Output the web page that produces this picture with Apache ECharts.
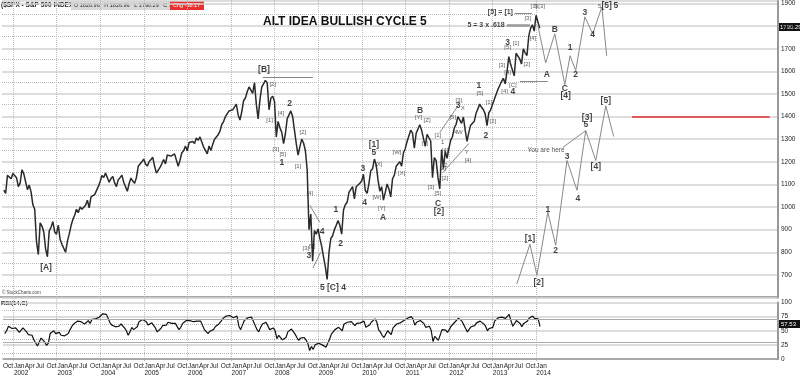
<!DOCTYPE html>
<html>
<head>
<meta charset="utf-8">
<title>ALT IDEA BULLISH CYCLE 5</title>
<script src="https://cdn.jsdelivr.net/npm/echarts/dist/echarts.min.js"></script>
<style>
  html, body { margin: 0; padding: 0; background: #fff; }
  #main { width: 800px; height: 377px; }
</style>
</head>
<body>
<div id="main"></div>
<script>
// $SPX weekly (mid-month, month end)
const spx2001 = [1075, 1060, 1140, 1139, 1125, 1148]; // Oct-Dec
const spx2002 = [1140, 1130, 1090, 1107, 1165, 1147, 1112, 1077, 1097, 1067, 1010, 990, 847, 790, 930, 916, 890, 815, 780, 895, 910, 936, 890, 880];
const spx2003 = [920, 856, 835, 841, 800, 848, 880, 917, 945, 964, 990, 975, 1000, 990, 985, 1008, 1030, 996, 1045, 1051, 1055, 1058, 1090, 1112];
const spx2004 = [1140, 1131, 1150, 1145, 1110, 1126, 1135, 1107, 1090, 1121, 1130, 1141, 1110, 1102, 1070, 1104, 1128, 1115, 1105, 1130, 1180, 1174, 1200, 1212];
const spx2005 = [1190, 1181, 1200, 1204, 1220, 1181, 1150, 1157, 1175, 1192, 1210, 1191, 1230, 1234, 1225, 1220, 1235, 1229, 1180, 1207, 1240, 1249, 1270, 1248];
const spx2006 = [1285, 1280, 1290, 1281, 1305, 1295, 1310, 1311, 1265, 1270, 1235, 1270, 1250, 1277, 1300, 1304, 1320, 1336, 1365, 1378, 1400, 1401, 1425, 1418];
const spx2007 = [1430, 1438, 1455, 1407, 1385, 1421, 1470, 1482, 1510, 1531, 1530, 1503, 1550, 1455, 1390, 1474, 1530, 1527, 1560, 1549, 1430, 1481, 1490, 1468];
const spx2008 = [1310, 1379, 1350, 1331, 1280, 1323, 1390, 1386, 1425, 1400, 1340, 1280, 1230, 1267, 1300, 1283, 1250, 1166, 900, 969, 760, 896, 880, 903];
const spx2009 = [860, 826, 780, 735, 680, 798, 860, 873, 900, 919, 940, 919, 880, 987, 1010, 1021, 1065, 1057, 1090, 1036, 1090, 1096, 1105, 1115];
const spx2010 = [1145, 1074, 1060, 1104, 1160, 1169, 1212, 1187, 1120, 1070, 1090, 1031, 1065, 1102, 1080, 1045, 1125, 1141, 1180, 1183, 1200, 1181, 1240, 1258];
const spx2011 = [1290, 1286, 1340, 1327, 1260, 1326, 1330, 1364, 1340, 1345, 1268, 1321, 1316, 1292, 1130, 1219, 1205, 1131, 1080, 1253, 1170, 1247, 1215, 1258];
const spx2012 = [1295, 1312, 1350, 1366, 1400, 1408, 1370, 1398, 1340, 1290, 1330, 1362, 1360, 1379, 1415, 1407, 1455, 1441, 1430, 1412, 1360, 1416, 1430, 1426];
const spx2013 = [1475, 1498, 1520, 1515, 1555, 1569, 1545, 1598, 1665, 1631, 1630, 1580, 1680, 1686, 1655, 1633, 1700, 1682, 1670, 1757, 1790, 1806, 1778, 1848];
const spx2014 = [1842, 1790.29];

// RSI(14) on the same half-month steps
const rsi2001 = [45, 50, 58, 57, 54, 56];
const rsi2002 = [55, 52, 47, 49, 55, 53, 48, 43, 45, 42, 34, 31, 23, 30, 37, 35, 30, 24, 28, 45, 48, 50, 45, 44];
const rsi2003 = [47, 42, 40, 41, 38, 45, 52, 58, 62, 64, 67, 65, 66, 64, 62, 65, 68, 63, 70, 70, 71, 71, 74, 77];
const rsi2004 = [80, 78, 79, 76, 64, 60, 62, 57, 54, 58, 62, 64, 55, 50, 42, 48, 56, 52, 50, 57, 66, 65, 70, 72];
const rsi2005 = [66, 60, 63, 64, 66, 55, 48, 49, 54, 59, 62, 60, 65, 66, 63, 60, 63, 62, 52, 56, 63, 66, 68, 65];
const rsi2006 = [68, 66, 66, 64, 67, 65, 67, 66, 52, 50, 45, 49, 46, 52, 57, 58, 62, 66, 71, 74, 76, 75, 77, 74];
const rsi2007 = [73, 75, 76, 58, 52, 60, 68, 70, 73, 75, 74, 67, 69, 52, 48, 56, 62, 61, 65, 63, 52, 54, 55, 50];
const rsi2008 = [36, 42, 38, 34, 33, 38, 48, 50, 53, 51, 44, 38, 33, 37, 40, 38, 34, 28, 15, 22, 17, 25, 26, 28];
const rsi2009 = [27, 25, 23, 21, 22, 35, 44, 47, 52, 55, 56, 54, 50, 62, 64, 65, 68, 66, 67, 59, 63, 64, 64, 65];
const rsi2010 = [67, 56, 57, 60, 65, 68, 71, 66, 52, 48, 42, 38, 39, 50, 47, 43, 55, 58, 62, 63, 64, 62, 68, 70];
const rsi2011 = [72, 72, 75, 71, 60, 65, 66, 68, 65, 63, 56, 58, 58, 51, 31, 40, 38, 33, 30, 52, 49, 51, 47, 52];
const rsi2012 = [58, 61, 65, 67, 72, 73, 67, 68, 54, 48, 53, 57, 56, 59, 64, 62, 67, 65, 62, 58, 50, 54, 55, 56];
const rsi2013 = [67, 70, 73, 71, 74, 76, 72, 75, 79, 68, 58, 60, 68, 69, 63, 57, 63, 61, 67, 72, 74, 76, 72, 75];
const rsi2014 = [71, 57.53];

// projected paths [year, price]
const pathUpper = [[2014.04, 1805], [2014.22, 1637], [2014.43, 1766], [2014.66, 1541], [2014.78, 1669], [2014.91, 1603], [2015.12, 1841], [2015.30, 1766], [2015.51, 1885], [2015.62, 1669]];
const pathLower = [[2013.56, 660], [2013.86, 836], [2014.02, 699], [2014.27, 977], [2014.45, 831], [2014.71, 1206], [2014.94, 1074], [2015.14, 1338], [2015.37, 1206], [2015.60, 1448], [2015.78, 1312]];

// drawn lines [[year, price], [year, price]]
const segments = [
  [[2007.73, 1576], [2008.88, 1576]],
  [[2013.51, 1858], [2013.90, 1858]],
  [[2013.63, 1555], [2014.27, 1555]],
  [[2014.61, 1263], [2015.14, 1338]],
  [[2011.79, 1329], [2012.21, 1448]],
  [[2011.86, 1153], [2012.46, 1281]],
  [[2008.81, 1008], [2009.04, 933]],
  [[2008.88, 730], [2009.06, 800]]
];
const segment618 = [[2013.33, 1805], [2013.86, 1805]];
const redLevel = [[2016.20, 1400], [2019.36, 1400]];

// wave labels [year, price, text]
const bigLabels = [
  [2002.76, 730, '[A]'], [2007.76, 1607, '[B]'], [2008.35, 1457, '2'], [2008.17, 1197, '1'],
  [2008.79, 783, '3'], [2009.09, 893, '4'], [2009.34, 642, '5 [C] 4'], [2009.41, 990, '1'],
  [2009.52, 836, '2'], [2010.03, 1171, '3'], [2010.07, 1021, '4'], [2010.28, 1276, '[1]'],
  [2010.28, 1241, '5'], [2010.49, 955, 'A'], [2011.34, 1426, 'B'], [2011.75, 1016, 'C'],
  [2011.77, 981, '[2]'], [2012.21, 1448, '3'], [2012.69, 1537, '1'], [2012.85, 1316, '2'],
  [2013.35, 1726, '3'], [2013.47, 1510, '4'],
  [2014.25, 1585, 'A'], [2014.43, 1783, 'B'], [2014.66, 1523, 'C'], [2014.68, 1492, '[4]'],
  [2014.78, 1704, '1'], [2014.91, 1585, '2'], [2015.12, 1858, '3'], [2015.30, 1761, '4'],
  [2015.62, 1889, '[5]'], [2015.83, 1889, '5'],
  [2013.86, 862, '[1]'], [2014.06, 664, '[2]'], [2014.27, 990, '1'], [2014.45, 805, '2'],
  [2014.71, 1224, '3'], [2014.96, 1038, '4'], [2015.17, 1396, '[3]'], [2015.14, 1365, '5'],
  [2015.37, 1180, '[4]'], [2015.60, 1470, '[5]']
];
const smallLabels = [
  [2007.96, 1541, '[2]'], [2007.89, 1382, '[1]'], [2008.15, 1413, '[4]'], [2008.03, 1254, '[3]'],
  [2008.19, 1233, '[5]'], [2008.65, 1329, '[2]'], [2008.54, 1180, '[1]'], [2010.39, 1188, '[X]'],
  [2010.81, 1241, '[W]'], [2008.81, 1061, '[4]'], [2008.72, 818, '[3]'], [2008.86, 827, '[5]'],
  [2010.35, 1043, '[W]'], [2010.46, 994, '[Y]'], [2010.92, 1149, '[X]'], [2011.59, 1087, '[3]'],
  [2011.75, 1061, '[5]'], [2011.86, 1171, '[2]'], [2011.31, 1396, '[Y]'], [2011.50, 1382, '[Z]'],
  [2011.45, 1281, '[1]'], [2011.75, 1316, '[1]'], [2011.91, 1250, '[4]'], [2011.91, 1127, '[2]'],
  [2011.86, 1285, '1'], [2011.93, 1184, '2'], [2012.16, 1329, '4'],
  [2012.23, 1470, '[3]'], [2012.32, 1435, 'X'], [2012.09, 1396, '[5]'], [2012.25, 1329, 'W'],
  [2012.41, 1241, 'Y'], [2012.44, 1206, '[4]'], [2012.71, 1501, '[5]'], [2012.92, 1462, '[1]'],
  [2013.01, 1378, '[2]'], [2013.28, 1510, '[4]'], [2013.47, 1537, '[C]'], [2013.95, 1889, '[3]'],
  [2014.09, 1889, '5[3]'], [2013.81, 1836, '[3]'], [2013.93, 1748, '[4]'], [2013.54, 1726, '[1]'],
  [2013.35, 1704, '[5]'], [2013.22, 1625, '[3]'], [2013.35, 1594, '[4]'], [2013.79, 1629, '[2]'],
  [2015.46, 1889, '5']
];
const noteLabels = [
  [2013.28, 1805, '5 = 3 x .618'],
  [2013.47, 1863, '[5] = [1]'],
  [2014.23, 1250, 'You are here']
];

const monthNames = ['Jan', 'Apr', 'Jul', 'Oct'];
const FONT = '"Liberation Sans", Arial, sans-serif';

function halfMonthSeries(arrays) {
  const out = [];
  let k = 0; // half months since mid Oct 2001
  arrays.forEach(arr => arr.forEach(v => {
    const m = 9 + Math.floor(k / 2);
    out.push([2001 + (m + (k % 2 ? 1 : 0.5)) / 12, v]);
    k++;
  }));
  return out;
}

const spxData = halfMonthSeries([spx2001, spx2002, spx2003, spx2004, spx2005, spx2006, spx2007,
  spx2008, spx2009, spx2010, spx2011, spx2012, spx2013, spx2014]);
const rsiData = halfMonthSeries([rsi2001, rsi2002, rsi2003, rsi2004, rsi2005, rsi2006, rsi2007,
  rsi2008, rsi2009, rsi2010, rsi2011, rsi2012, rsi2013, rsi2014]);

const labelSeries = (rows, label) => ({
  type: 'scatter',
  xAxisIndex: 0, yAxisIndex: 0,
  symbolSize: 0,
  silent: true,
  z: 5,
  data: rows,
  label: Object.assign({
    show: true, position: 'inside', fontFamily: FONT,
    formatter: p => p.data[2]
  }, label)
});

const chart = echarts.init(document.getElementById('main'));

const option = {
  animation: false,
  backgroundColor: '#fff',
  grid: [
    { left: 2, right: 22, top: 0, height: 297.5 },           // price
    { left: 2, right: 22, top: 302.5, height: 58 },          // rsi
    { left: 13, width: 523.2, top: 0, height: 362 },         // year lines
    { left: 2, width: 534.2, top: 0, height: 286.2 },        // dotted price levels
    { left: 2, width: 534.2, top: 309.75, height: 43.5 }     // dotted rsi levels
  ],
  xAxis: [
    { gridIndex: 0, type: 'value', min: 2001.75, max: 2019.55,
      axisLine: { show: false }, axisTick: { show: false }, axisLabel: { show: false }, splitLine: { show: false } },
    { gridIndex: 1, type: 'value', min: 2001.75, max: 2019.55, interval: 0.25,
      axisLine: { show: true, lineStyle: { color: '#999', width: 1.5 } },
      axisTick: { show: false },
      splitLine: { show: false },
      axisLabel: {
        fontSize: 6.5, color: '#222', fontFamily: FONT, align: 'left', margin: 4, lineHeight: 7,
        formatter: v => {
          if (v > 2014.01) return '';
          const yr = Math.floor(v + 0.001);
          const q = Math.round((v - yr) * 4) % 4;
          return q === 0 ? 'Jan\n' + yr : monthNames[q];
        }
      } },
    { gridIndex: 2, type: 'value', min: 2002, max: 2014, interval: 1,
      axisLine: { show: false }, axisTick: { show: false }, axisLabel: { show: false },
      splitLine: { show: true, lineStyle: { color: '#bbb', type: 'dotted', width: 1 } } },
    { gridIndex: 3, type: 'value', min: 2001.75, max: 2014, show: false },
    { gridIndex: 4, type: 'value', min: 2001.75, max: 2014, show: false }
  ],
  yAxis: [
    { gridIndex: 0, type: 'value', position: 'right', min: 600, max: 1911, interval: 100,
      axisLine: { show: true, lineStyle: { color: '#999', width: 2 } },
      axisTick: { show: false },
      axisLabel: { fontSize: 6.5, color: '#222', fontFamily: FONT, margin: 3, showMinLabel: false, showMaxLabel: false,
        formatter: v => String(v) },
      splitLine: { show: true, lineStyle: { color: '#d2d2d2', width: 1.5 } } },
    { gridIndex: 1, type: 'value', position: 'right', min: 0, max: 100, interval: 25,
      axisLine: { show: true, lineStyle: { color: '#999', width: 2 } },
      axisTick: { show: false },
      axisLabel: { fontSize: 6.5, color: '#222', fontFamily: FONT, margin: 3 },
      splitLine: { show: true, lineStyle: { color: '#d2d2d2', width: 1.5 } } },
    { gridIndex: 2, type: 'value', show: false },
    { gridIndex: 3, type: 'value', min: 650, max: 1911, interval: 100,
      axisLine: { show: false }, axisTick: { show: false }, axisLabel: { show: false },
      splitLine: { show: true, showMaxLine: false, lineStyle: { color: '#bbb', type: 'dotted', width: 1 } } },
    { gridIndex: 4, type: 'value', min: 12.5, max: 87.5, interval: 25,
      axisLine: { show: false }, axisTick: { show: false }, axisLabel: { show: false },
      splitLine: { show: true, lineStyle: { color: '#bbb', type: 'dotted', width: 1 } } }
  ],
  series: [
    { type: 'line', name: '$SPX', xAxisIndex: 0, yAxisIndex: 0, data: spxData,
      symbol: 'none', z: 3, lineStyle: { color: '#2a2a2a', width: 1.5 } },
    { type: 'line', xAxisIndex: 0, yAxisIndex: 0, data: pathUpper, symbol: 'none', silent: true,
      lineStyle: { color: '#888', width: 1 } },
    { type: 'line', xAxisIndex: 0, yAxisIndex: 0, data: pathLower, symbol: 'none', silent: true,
      lineStyle: { color: '#888', width: 1 } },
    { type: 'lines', coordinateSystem: 'cartesian2d', xAxisIndex: 0, yAxisIndex: 0, silent: true,
      data: segments.map(c => ({ coords: c })), lineStyle: { color: '#888', width: 1, opacity: 1 } },
    { type: 'lines', coordinateSystem: 'cartesian2d', xAxisIndex: 0, yAxisIndex: 0, silent: true,
      data: [{ coords: segment618 }], lineStyle: { color: '#999', width: 2.5, opacity: 1 } },
    { type: 'lines', coordinateSystem: 'cartesian2d', xAxisIndex: 0, yAxisIndex: 0, silent: true,
      data: [{ coords: redLevel }], lineStyle: { color: '#e03030', width: 1.5, opacity: 1 } },
    labelSeries(bigLabels, { fontSize: 8.5, fontWeight: 'bold', color: '#111' }),
    labelSeries(smallLabels, { fontSize: 6, color: '#333' }),
    labelSeries(noteLabels.slice(0, 2), { fontSize: 7, fontWeight: 'bold', color: '#111', align: 'right' }),
    labelSeries(noteLabels.slice(2), { fontSize: 6.5, color: '#222' }),
    { type: 'line', name: 'RSI', xAxisIndex: 1, yAxisIndex: 1, data: rsiData,
      symbol: 'none', lineStyle: { color: '#111', width: 1.2 },
      markLine: { silent: true, symbol: 'none', label: { show: false },
        lineStyle: { color: '#aaa', width: 1, type: 'solid' },
        data: [{ yAxis: 30 }, { yAxis: 70 }] } }
  ],
  graphic: [
    { type: 'rect', shape: { x: 0, y: 296, width: 778, height: 2 }, style: { fill: '#aaa' }, silent: true },
    { type: 'text', left: 1, top: 2, style: { text: '($SPX - S&P 500 INDEX,W)', font: 'bold 6.5px ' + FONT, fill: '#222' } },
    { type: 'rect', shape: { x: 71, y: 1, width: 133, height: 9 }, style: { fill: '#d8d8d8' } },
    { type: 'text', left: 74, top: 2.5, style: { text: 'O 1826.96   H 1826.96   L 1790.29   C 1790.29', font: '5.5px ' + FONT, fill: '#222' } },
    { type: 'rect', shape: { x: 170, y: 1, width: 34, height: 9 }, style: { fill: '#e8312f' } },
    { type: 'text', left: 173, top: 2.5, style: { text: 'Chg -38.17', font: '5.5px ' + FONT, fill: '#fff' } },
    { type: 'text', left: 263, top: 16, style: { text: 'ALT IDEA BULLISH CYCLE 5', font: 'bold 12px ' + FONT, fill: '#111' } },
    { type: 'text', left: 2, top: 290, style: { text: '© StockCharts.com', font: '4.5px ' + FONT, fill: '#444' } },
    { type: 'text', left: 1, top: 300, style: { text: 'RSI(14,C)', font: 'bold 6px ' + FONT, fill: '#222' } },
    { type: 'rect', shape: { x: 779, y: 23, width: 21, height: 8 }, style: { fill: '#111' } },
    { type: 'text', left: 780, top: 24, style: { text: '1790.29', font: '6px ' + FONT, fill: '#fff' } },
    { type: 'rect', shape: { x: 779, y: 320, width: 21, height: 8 }, style: { fill: '#111' } },
    { type: 'text', left: 781, top: 321, style: { text: '57.53', font: '6px ' + FONT, fill: '#fff' } }
  ]
};

chart.setOption(option);
</script>
</body>
</html>
